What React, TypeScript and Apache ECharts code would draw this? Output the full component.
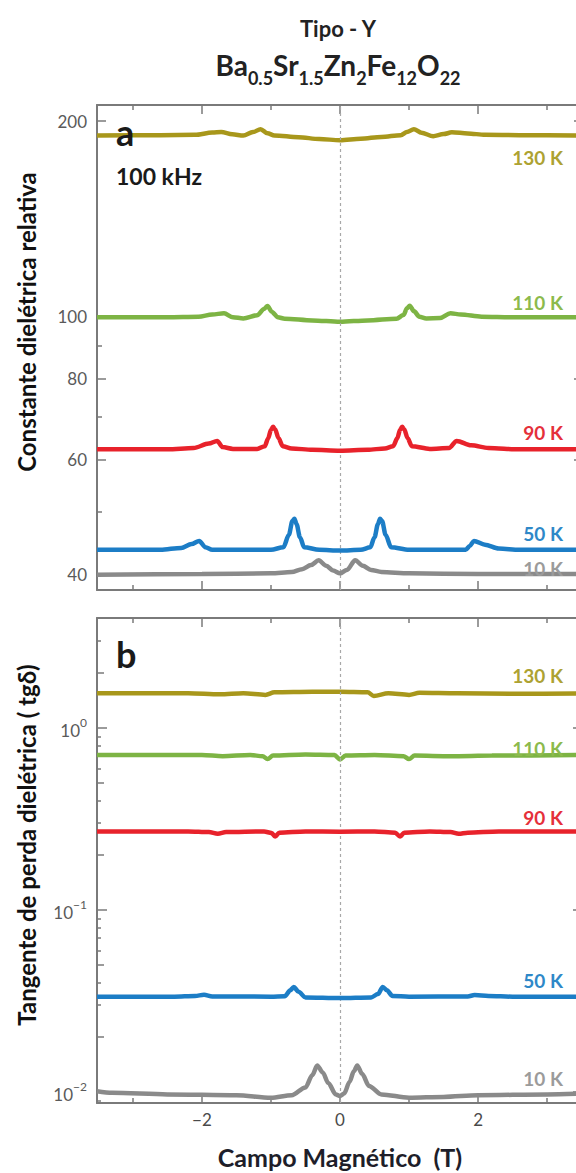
import { useEffect, useRef } from 'react';
import * as echarts from 'echarts';

// ---------- axes ----------
const fieldRange = [-3.52, 3.52];
const fieldMajorTicks = [-2, 0, 2];
const fieldMinorTicks = [-3, -1, 1, 3];

const epsRange = [37.8, 211.7];
const epsMajorTicks = [40, 60, 80, 100, 200];
const epsMinorTicks = [50, 70, 90];

const tanRange = [0.0087, 4.02];
const tanMajorTicks = [0.01, 0.1, 1];
const tanMidTicks = [0.02, 0.05, 0.2, 0.5, 2];
const tanMinorTicks = [0.009, 0.03, 0.04, 0.06, 0.07, 0.08, 0.09, 0.3, 0.4, 0.6, 0.7, 0.8, 0.9, 3];

const temps = ['130 K', '110 K', '90 K', '50 K', '10 K'];
const lineColors = ['#A8971B', '#7DB444', '#E8222B', '#1C7DC6', '#8A8A8A'];
const labelColors = ['#ADA232', '#8CBA4C', '#E5303A', '#2E88C8', '#9B9B9B'];

// ---------- panel a: relative dielectric constant vs field ----------
const eps130: [number, number][] = [
  [-3.52, 190.0], [-2.6, 190.2], [-2.1, 190.4], [-1.85, 192.0], [-1.72, 192.3], [-1.56, 190.8],
  [-1.4, 189.9], [-1.26, 192.3], [-1.15, 194.3], [-1.05, 191.5], [-0.95, 190.0], [-0.6, 188.8],
  [-0.3, 187.6], [0, 186.8], [0.3, 187.8], [0.6, 189.0], [0.88, 190.2], [0.97, 192.3],
  [1.07, 194.3], [1.18, 191.8], [1.35, 189.5], [1.5, 190.9], [1.62, 192.1], [1.85, 191.4],
  [2.1, 190.4], [2.6, 190.2], [3.52, 190.0],
];
const eps110: [number, number][] = [
  [-3.52, 99.6], [-2.5, 99.6], [-2.05, 99.8], [-1.85, 100.6], [-1.68, 101.0], [-1.55, 99.6],
  [-1.4, 99.2], [-1.2, 100.3], [-1.1, 102.6], [-1.05, 103.7], [-0.99, 101.6], [-0.9, 99.6], [-0.8, 99.1],
  [-0.4, 98.5], [0, 98.0], [0.4, 98.5], [0.82, 99.1], [0.92, 100.4], [0.97, 102.8], [1.01, 103.8],
  [1.07, 101.8], [1.15, 99.8], [1.25, 99.2], [1.45, 99.3], [1.6, 101.0], [1.75, 100.6],
  [2.05, 99.8], [2.5, 99.6], [3.52, 99.6],
];
const eps90: [number, number][] = [
  [-3.52, 62.3], [-2.5, 62.3], [-2.12, 62.6], [-1.9, 63.6], [-1.78, 64.2], [-1.7, 62.8],
  [-1.55, 62.4], [-1.2, 62.4], [-1.09, 63.0], [-1.04, 64.8], [-1.0, 66.8], [-0.97, 67.5],
  [-0.94, 66.9], [-0.89, 64.8], [-0.83, 63.0], [-0.7, 62.5], [-0.4, 62.2], [0, 62.0],
  [0.4, 62.2], [0.65, 62.5], [0.77, 63.0], [0.83, 64.8], [0.87, 66.8], [0.9, 67.5],
  [0.93, 66.9], [0.98, 64.8], [1.04, 63.0], [1.3, 62.4], [1.58, 62.6], [1.69, 64.2],
  [1.9, 63.2], [2.15, 62.6], [2.6, 62.3], [3.52, 62.3],
];
const eps50: [number, number][] = [
  [-3.52, 43.6], [-2.6, 43.6], [-2.3, 43.9], [-2.15, 44.5], [-2.04, 45.0], [-1.95, 44.0],
  [-1.85, 43.6], [-1.0, 43.6], [-0.82, 44.0], [-0.74, 46.0], [-0.69, 48.3], [-0.66, 48.7],
  [-0.63, 47.8], [-0.58, 45.6], [-0.52, 44.0], [-0.3, 43.6], [0, 43.5], [0.3, 43.6],
  [0.44, 44.0], [0.5, 45.6], [0.55, 47.8], [0.58, 48.7], [0.61, 48.3], [0.66, 46.0],
  [0.74, 44.0], [1.0, 43.6], [1.82, 43.6], [1.88, 44.2], [1.94, 45.0], [2.1, 44.4],
  [2.3, 43.8], [2.6, 43.6], [3.52, 43.6],
];
const eps10: [number, number][] = [
  [-3.52, 39.9], [-2, 40.0], [-1, 40.1], [-0.7, 40.3], [-0.55, 40.7], [-0.42, 41.3],
  [-0.31, 42.0], [-0.2, 41.2], [-0.1, 40.5], [0, 40.1], [0.1, 40.6], [0.22, 42.0],
  [0.33, 41.2], [0.45, 40.6], [0.6, 40.3], [1, 40.1], [2, 40.0], [3.52, 40.0],
];

// ---------- panel b: dielectric loss tangent vs field ----------
const tan130: [number, number][] = [
  [-3.52, 1.55], [-2.2, 1.55], [-1.74, 1.53], [-1.4, 1.55], [-1.08, 1.52], [-0.95, 1.57],
  [-0.4, 1.58], [0, 1.58], [0.4, 1.57], [0.49, 1.5], [0.7, 1.55], [1.0, 1.52],
  [1.15, 1.56], [1.7, 1.55], [2.5, 1.54], [3.52, 1.55],
];
const tan110: [number, number][] = [
  [-3.52, 0.71], [-2, 0.71], [-1.7, 0.7], [-1.3, 0.71], [-1.12, 0.7], [-1.05, 0.675],
  [-0.97, 0.705], [-0.5, 0.715], [-0.08, 0.71], [0, 0.672], [0.08, 0.705], [0.5, 0.71],
  [0.92, 0.7], [1.0, 0.675], [1.08, 0.705], [1.6, 0.7], [2.2, 0.705], [3.52, 0.71],
];
const tan90: [number, number][] = [
  [-3.52, 0.27], [-2.2, 0.27], [-1.9, 0.268], [-1.77, 0.262], [-1.65, 0.268], [-1.1, 0.27],
  [-0.99, 0.265], [-0.94, 0.253], [-0.88, 0.266], [-0.5, 0.27], [0, 0.269], [0.5, 0.27],
  [0.8, 0.266], [0.87, 0.253], [0.93, 0.266], [1.3, 0.27], [1.6, 0.268], [1.72, 0.262],
  [1.85, 0.266], [2.3, 0.27], [3.52, 0.27],
];
const tan50: [number, number][] = [
  [-3.52, 0.0334], [-2.4, 0.0334], [-2.1, 0.0337], [-1.97, 0.0342], [-1.85, 0.0335], [-1.0, 0.0334],
  [-0.8, 0.0336], [-0.72, 0.0362], [-0.67, 0.0378], [-0.6, 0.0355], [-0.5, 0.0331], [0, 0.0328],
  [0.45, 0.0331], [0.55, 0.0345], [0.62, 0.0378], [0.68, 0.0362], [0.76, 0.0337], [1.0, 0.0334],
  [1.85, 0.0335], [1.95, 0.0341], [2.15, 0.0337], [2.5, 0.0334], [3.52, 0.0334],
];
const tan10: [number, number][] = [
  [-3.52, 0.0101], [-3.3, 0.0099], [-2.5, 0.0097], [-1.5, 0.0096], [-1.0, 0.0093], [-0.7, 0.0096],
  [-0.5, 0.0106], [-0.4, 0.0124], [-0.33, 0.014], [-0.25, 0.0128], [-0.17, 0.0112], [-0.06, 0.0097],
  [0, 0.0095], [0.06, 0.0098], [0.14, 0.0114], [0.2, 0.013], [0.25, 0.014], [0.32, 0.0126],
  [0.42, 0.0108], [0.6, 0.0097], [1.0, 0.0093], [1.5, 0.0094], [2.0, 0.0096], [3.0, 0.0097],
  [3.52, 0.0098],
];

const epsSeries = [eps130, eps110, eps90, eps50, eps10];
const tanSeries = [tan130, tan110, tan90, tan50, tan10];

// label anchor rows (pixel y) for the temperature tags
const epsTagY = [157, 302, 432, 533, 568];
const tanTagY = [675, 748, 817, 980, 1078];

const FONT = 'Lato';
const axisColor = '#7a7a7a';
const L = Math.log10;

function buildOption() {
  const xAxes: any[] = [];
  const yAxes: any[] = [];
  const xAx = (grid: number, pos: string, ticks: number[], len: number, line: boolean, labels = false, name = '') => ({
    type: 'value', gridIndex: grid, position: pos, min: fieldRange[0], max: fieldRange[1],
    axisLine: { show: line, onZero: false, lineStyle: { color: axisColor, width: 2 } },
    axisTick: { show: true, inside: true, length: len, customValues: ticks, lineStyle: { color: axisColor, width: 1.5 } },
    axisLabel: labels
      ? {
          show: true, customValues: ticks, margin: 8, fontFamily: FONT, fontSize: 17, color: '#4a4a4a',
          formatter: (v: number) => (v < 0 ? '\u2212' + Math.abs(v) : String(v)),
        }
      : { show: false },
    splitLine: { show: false },
    name,
    nameLocation: 'middle',
    nameGap: 41,
    nameTextStyle: { fontFamily: FONT, fontSize: 25, fontWeight: 'bold', color: '#1e1e2a' },
  });
  for (const g of [0, 1]) {
    xAxes.push(xAx(g, 'bottom', fieldMajorTicks, 9, true, g === 1, g === 1 ? 'Campo Magnético  (T)' : ''));
    xAxes.push(xAx(g, 'bottom', fieldMinorTicks, 5, false));
    xAxes.push(xAx(g, 'top', fieldMajorTicks, 9, true));
    xAxes.push(xAx(g, 'top', fieldMinorTicks, 5, false));
  }
  const yAx = (grid: number, pos: string, range: number[], ticks: number[], len: number, line: boolean, label: any = null) => ({
    type: 'value', gridIndex: grid, position: pos, min: L(range[0]), max: L(range[1]),
    axisLine: { show: line, onZero: false, lineStyle: { color: axisColor, width: 2 } },
    axisTick: { show: true, inside: true, length: len, customValues: ticks.map(L), lineStyle: { color: axisColor, width: 1.5 } },
    axisLabel: label ? { show: true, customValues: ticks.map(L), margin: 10, ...label } : { show: false },
    splitLine: { show: false },
  });
  const epsLabel = {
    fontFamily: FONT, fontSize: 17, color: '#5a5a5a',
    formatter: (v: number) => String(Math.round(Math.pow(10, v))),
  };
  const tanLabel = {
    fontFamily: FONT, color: '#5a5a5a',
    formatter: (v: number) => {
      const e = Math.round(v);
      return '{b|10}{s|' + (e < 0 ? '\u2212' + Math.abs(e) : String(e)) + '}';
    },
    rich: {
      b: { fontFamily: FONT, fontSize: 17, color: '#5a5a5a', lineHeight: 22, verticalAlign: 'bottom' },
      s: { fontFamily: FONT, fontSize: 12, color: '#5a5a5a', lineHeight: 12, verticalAlign: 'top' },
    },
  };
  // grid 0 : y axes 0..3
  yAxes.push(yAx(0, 'left', epsRange, epsMajorTicks, 9, true, epsLabel));
  yAxes.push(yAx(0, 'left', epsRange, epsMinorTicks, 5, false));
  yAxes.push(yAx(0, 'right', epsRange, epsMajorTicks, 9, true));
  yAxes.push(yAx(0, 'right', epsRange, epsMinorTicks, 5, false));
  // grid 1 : y axes 4..9
  yAxes.push(yAx(1, 'left', tanRange, tanMajorTicks, 10, true, tanLabel));
  yAxes.push(yAx(1, 'left', tanRange, tanMidTicks, 7, false));
  yAxes.push(yAx(1, 'left', tanRange, tanMinorTicks, 4, false));
  yAxes.push(yAx(1, 'right', tanRange, tanMajorTicks, 10, true));
  yAxes.push(yAx(1, 'right', tanRange, tanMidTicks, 7, false));
  yAxes.push(yAx(1, 'right', tanRange, tanMinorTicks, 4, false));

  const zeroLine = {
    silent: true, symbol: 'none', label: { show: false },
    lineStyle: { type: [3, 3], color: '#a8a8a8', width: 1.2 },
    data: [{ xAxis: 0 }],
  };
  const series: any[] = [];
  epsSeries.forEach((d, i) => {
    series.push({
      type: 'line', name: 'eps ' + temps[i], xAxisIndex: 0, yAxisIndex: 0,
      data: d.map(([x, v]) => [x, L(v)]), showSymbol: false, smooth: 0.3, smoothMonotone: 'x',
      lineStyle: { color: lineColors[i], width: 4.5 }, itemStyle: { color: lineColors[i] },
      z: 3 + i,
      ...(i === 0 ? { markLine: zeroLine } : {}),
    });
  });
  tanSeries.forEach((d, i) => {
    series.push({
      type: 'line', name: 'tan ' + temps[i], xAxisIndex: 4, yAxisIndex: 4,
      data: d.map(([x, v]) => [x, L(v)]), showSymbol: false, smooth: 0.3, smoothMonotone: 'x',
      lineStyle: { color: lineColors[i], width: 4.5 }, itemStyle: { color: lineColors[i] },
      z: 3 + i,
      ...(i === 0 ? { markLine: zeroLine } : {}),
    });
  });

  const txt = (x: number, y: number, text: string, size: number, color: string, align = 'center', extra: any = {}) => ({
    type: 'text', x, y, z: 100,
    style: {
      text, fontFamily: FONT, fontSize: size, fontWeight: 'bold', fill: color,
      align, textAlign: align, verticalAlign: 'middle', textVerticalAlign: 'middle',
    },
    ...extra,
  });
  const graphic: any[] = [
    txt(338, 28, 'Tipo - Y', 22, '#222'),
    {
      type: 'text', x: 338, y: 70, z: 100,
      style: {
        text: '{b|Ba}{s|0.5}{b|Sr}{s|1.5}{b|Zn}{s|2}{b|Fe}{s|12}{b|O}{s|22}',
        align: 'center', textAlign: 'center', verticalAlign: 'middle', textVerticalAlign: 'middle',
        rich: {
          b: { fontFamily: FONT, fontSize: 28, fontWeight: 'bold', fill: '#222', lineHeight: 34, verticalAlign: 'bottom', padding: [0, 0, 8, 0] },
          s: { fontFamily: FONT, fontSize: 18, fontWeight: 'bold', fill: '#222', lineHeight: 18, verticalAlign: 'bottom' },
        },
      },
    },
    txt(116, 132, 'a', 36, '#1a1a1a', 'left'),
    txt(116, 176, '100 kHz', 23, '#1a1a1a', 'left'),
    txt(116, 654, 'b', 36, '#1a1a1a', 'left'),
    txt(26, 322, 'Constante dielétrica relativa', 24, '#111', 'center', { rotation: Math.PI / 2 }),
    txt(26, 845, 'Tangente de perda dielétrica ( tgδ)', 24, '#111', 'center', { rotation: Math.PI / 2 }),
  ];
  temps.forEach((t, i) => {
    graphic.push(txt(563, epsTagY[i], t, 19, labelColors[i], 'right'));
    graphic.push(txt(563, tanTagY[i], t, 19, labelColors[i], 'right'));
  });

  return {
    animation: false,
    backgroundColor: '#ffffff',
    grid: [
      { left: 97, top: 105, width: 486, height: 485 },
      { left: 97, top: 618, width: 486, height: 485 },
    ],
    xAxis: xAxes,
    yAxis: yAxes,
    series,
    graphic,
  };
}

export default function App() {
  const ref = useRef<HTMLDivElement>(null);
  useEffect(() => {
    const chart = echarts.init(ref.current as HTMLDivElement, undefined, { renderer: 'svg' });
    chart.setOption(buildOption() as any);
    return () => chart.dispose();
  }, []);
  return (
    <div style={{ position: 'fixed', left: 0, top: 0, width: 576, height: 1173, overflow: 'hidden', background: '#fff' }}>
      <div ref={ref} style={{ width: 600, height: 1173 }} />
    </div>
  );
}
